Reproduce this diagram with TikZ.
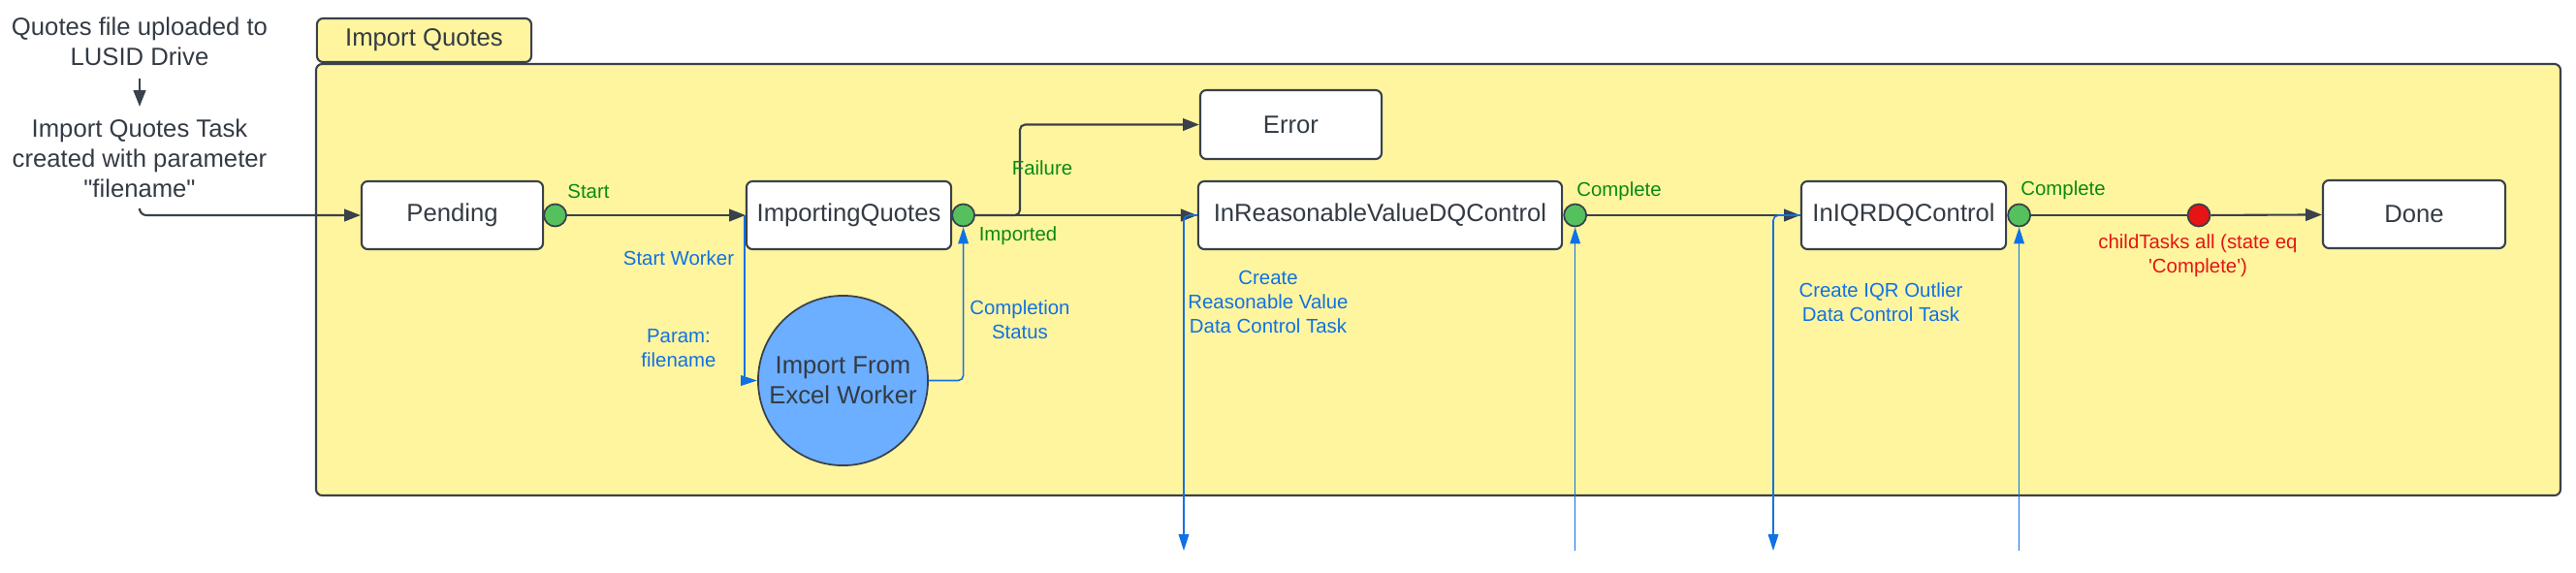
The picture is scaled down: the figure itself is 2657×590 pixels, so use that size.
\documentclass[tikz,border=0pt]{standalone}
\usepackage{fontspec}
\newfontfamily\lsans{Liberation Sans}
\usetikzlibrary{arrows.meta}
\definecolor{lc}{HTML}{3A414A}
\definecolor{tc}{HTML}{333B44}
\definecolor{yel}{HTML}{FFF59F}
\definecolor{gfill}{HTML}{55C15E}
\definecolor{gtext}{HTML}{0A8A12}
\definecolor{bc}{HTML}{1071E5}
\definecolor{wfill}{HTML}{6CAEFF}
\definecolor{rc}{HTML}{E61414}
\newcommand{\myNodeFont}{\lsans\fontsize{7.3}{8.8}\selectfont}
\newcommand{\myLblFont}{\lsans\fontsize{5.8}{7.1}\selectfont}
\begin{document}
\begin{tikzpicture}[x=0.01cm,y=-0.01cm,
  statebox/.style={draw=lc, fill=white, rounded corners=1.8pt, line width=0.6pt, inner sep=0pt, minimum height=0.70cm, font=\myNodeFont, text=tc},
  dot/.style={circle, draw=lc, fill=gfill, minimum size=0.23cm, inner sep=0pt, line width=0.5pt},
  reddot/.style={dot, fill=rc},
  plain/.style={font=\myNodeFont, text=tc, align=center, inner sep=0pt},
  lbl/.style={font=\myLblFont, align=center, inner sep=0pt},
  glbl/.style={lbl, text=gtext},
  blbl/.style={lbl, text=bc},
  rlbl/.style={lbl, text=rc},
  conn/.style={draw=lc, line width=0.6pt},
  arr/.style={conn, -{Triangle[length=4.8pt,width=3.6pt]}},
  bline/.style={draw=bc, line width=0.45pt},
  barr/.style={bline, -{Triangle[length=4.8pt,width=3pt]}}
]
\useasboundingbox (0,0) rectangle (2657,590);

% container and tab
\draw[draw=lc, fill=yel, line width=0.6pt, rounded corners=1.8pt] (326,66) rectangle (2641,511);
\node[draw=lc, fill=yel, line width=0.6pt, rounded corners=1.8pt, minimum width=2.21cm, minimum height=0.45cm, inner sep=0pt, font=\myNodeFont, text=tc] (tab) at (437.5,41.5) {Import Quotes};

% left texts
\node[plain] (t1) at (144,43) {Quotes file uploaded to\\LUSID Drive};
\node[plain] (t2) at (144,163) {Import Quotes Task\\created with parameter\\"filename"};

% states
\node[statebox, minimum width=1.87cm] (pending) at (466.5,222) {Pending};
\node[statebox, minimum width=2.11cm] (iq) at (875.5,222) {ImportingQuotes};
\node[statebox, minimum width=1.87cm, minimum height=0.71cm] (err) at (1331.5,128.5) {Error};
\node[statebox, minimum width=3.75cm] (irv) at (1423.5,222) {InReasonableValueDQControl};
\node[statebox, minimum width=2.11cm] (iqr) at (1963.5,222) {InIQRDQControl};
\node[statebox, minimum width=1.88cm] (done) at (2490,221) {Done};

\node[circle, draw=lc, fill=wfill, line width=0.5pt, minimum size=1.75cm, inner sep=0pt, font=\myNodeFont, text=tc, align=center] (worker) at (869.5,392.5) {Import From\\Excel Worker};

% dots
\node[dot] (c1) at ([xshift=0.115cm]pending.east) {};
\node[dot] (c2) at ([xshift=0.115cm]iq.east) {};
\node[dot] (c3) at ([xshift=0.125cm]irv.east) {};
\node[dot] (c4) at ([xshift=0.125cm]iqr.east) {};
\node[reddot] (rd) at (2268,222) {};

% free ends
\coordinate (e1) at (1221,568);
\coordinate (e2) at (c3.south |- e1);
\coordinate (e3) at (1829,568);
\coordinate (e4) at (c4.south |- e1);

% black connectors
\draw[arr, shorten <=0.12cm, shorten >=0.12cm] (t1.south) -- (t2.north);
\draw[arr, rounded corners=2pt] ([yshift=-0.13cm]t2.south) |- (pending.west);
\draw[arr] (c1) -- (iq);
\draw[arr] (c2) -- (irv);
\draw[arr, rounded corners=1.5pt] (c2.east) -- ++(46,0) |- (err.west);
\draw[arr] (c3) -- (iqr);
\draw[conn] (c4) -- (rd);
\draw[arr] (rd) -- (done);

% blue connectors
\draw[barr] ([xshift=-0.01cm]iq.west) |- (worker.west);
\draw[barr, rounded corners=1.5pt] (worker.east) -| (c2.south);
\draw[barr, rounded corners=1.5pt] (irv.west) -| (e1);
\draw[barr] (e2) -- (c3.south);
\draw[barr, rounded corners=1.5pt] (iqr.west) -| (e3);
\draw[barr] (e4) -- (c4.south);

% labels
\node[glbl] (lstart) at (607,197) {Start};
\node[glbl] (limp) at (1050,243) {Imported};
\node[glbl] (lfail) at (1075,173) {Failure};
\node[glbl] (lcomp1) at (1670,197) {Complete};
\node[glbl] (lcomp2) at (2128,196) {Complete};
\node[blbl] (lsw) at (700,266) {Start Worker};
\node[blbl] (lparam) at (700,359) {Param:\\filename};
\node[blbl] (lcs) at (1052,330) {Completion\\Status};
\node[blbl] (lrv) at (1308,311) {Create\\Reasonable Value\\Data Control Task};
\node[blbl] (liqr) at (1940,311.5) {Create IQR Outlier\\Data Control Task};
\node[rlbl] (lchild) at (2267,263.5) {childTasks all (state eq\\'Complete')};
\end{tikzpicture}
\end{document}
